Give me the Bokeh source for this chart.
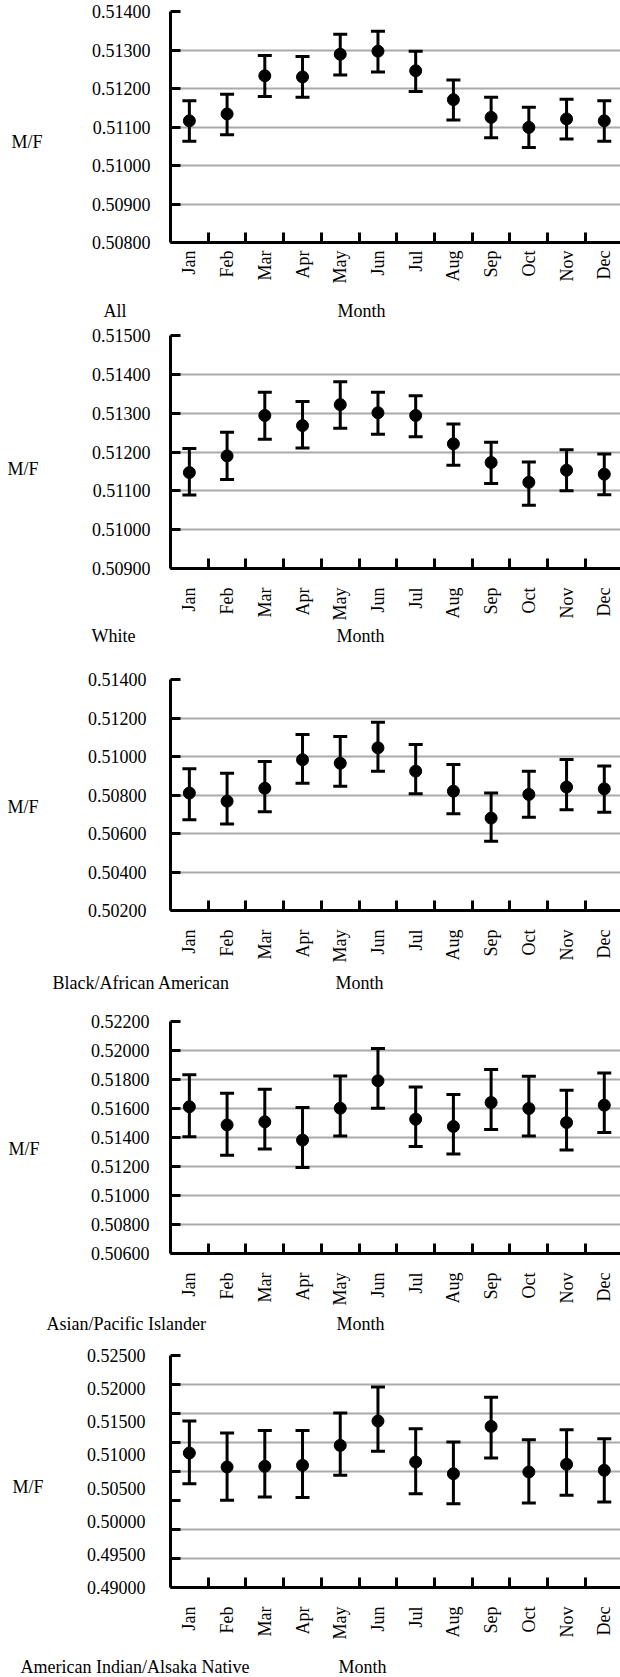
import math
from bokeh.plotting import figure
from bokeh.models import (ColumnDataSource, Range1d, FixedTicker, PrintfTickFormatter,
                          Whisker, TeeHead, Label)
from bokeh.layouts import column
from bokeh.embed import file_html
from bokeh.resources import INLINE

FONT = "Liberation Serif"

months = ["Jan", "Feb", "Mar", "Apr", "May", "Jun", "Jul", "Aug", "Sep", "Oct", "Nov", "Dec"]

# ---- All ----
all_mean = [0.51116, 0.51134, 0.51233, 0.51230, 0.51289, 0.51297, 0.51246, 0.51171, 0.51125, 0.51099, 0.51121, 0.51116]
all_lower = [0.51063, 0.51080, 0.51179, 0.51177, 0.51235, 0.51243, 0.51192, 0.51118, 0.51072, 0.51047, 0.51069, 0.51063]
all_upper = [0.51168, 0.51185, 0.51286, 0.51283, 0.51341, 0.51349, 0.51297, 0.51222, 0.51177, 0.51151, 0.51172, 0.51168]
all_ticks = [0.508, 0.509, 0.510, 0.511, 0.512, 0.513, 0.514]

# ---- White ----
white_mean = [0.51147, 0.51190, 0.51294, 0.51268, 0.51322, 0.51301, 0.51294, 0.51221, 0.51173, 0.51122, 0.51153, 0.51143]
white_lower = [0.51089, 0.51129, 0.51233, 0.51210, 0.51261, 0.51246, 0.51239, 0.51166, 0.51119, 0.51063, 0.51100, 0.51090]
white_upper = [0.51209, 0.51251, 0.51354, 0.51330, 0.51381, 0.51354, 0.51345, 0.51272, 0.51225, 0.51174, 0.51206, 0.51195]
white_ticks = [0.509, 0.510, 0.511, 0.512, 0.513, 0.514, 0.515]

# ---- Black/African American ----
black_mean = [0.50810, 0.50768, 0.50835, 0.50983, 0.50965, 0.51045, 0.50924, 0.50820, 0.50680, 0.50803, 0.50841, 0.50832]
black_lower = [0.50671, 0.50650, 0.50713, 0.50861, 0.50846, 0.50924, 0.50806, 0.50702, 0.50560, 0.50685, 0.50723, 0.50711]
black_upper = [0.50936, 0.50913, 0.50974, 0.51114, 0.51104, 0.51178, 0.51062, 0.50958, 0.50811, 0.50924, 0.50984, 0.50951]
black_ticks = [0.502, 0.504, 0.506, 0.508, 0.510, 0.512, 0.514]

# ---- Asian/Pacific Islander ----
asian_mean = [0.51612, 0.51487, 0.51508, 0.51382, 0.51602, 0.51791, 0.51526, 0.51476, 0.51641, 0.51600, 0.51503, 0.51623]
asian_lower = [0.51405, 0.51278, 0.51320, 0.51193, 0.51411, 0.51602, 0.51338, 0.51287, 0.51455, 0.51411, 0.51313, 0.51434]
asian_upper = [0.51832, 0.51706, 0.51733, 0.51607, 0.51825, 0.52014, 0.51749, 0.51697, 0.51869, 0.51823, 0.51726, 0.51844]
asian_ticks = [0.506, 0.508, 0.510, 0.512, 0.514, 0.516, 0.518, 0.520, 0.522]

# ---- American Indian/Alaska Native ----
aian_mean = [0.51029, 0.50818, 0.50828, 0.50843, 0.51144, 0.51511, 0.50893, 0.50717, 0.51430, 0.50743, 0.50858, 0.50768]
aian_lower = [0.50567, 0.50316, 0.50366, 0.50356, 0.50692, 0.51054, 0.50416, 0.50265, 0.50953, 0.50275, 0.50391, 0.50291]
aian_upper = [0.51511, 0.51330, 0.51370, 0.51370, 0.51631, 0.52023, 0.51395, 0.51194, 0.51872, 0.51230, 0.51380, 0.51245]
aian_ticks = [0.490, 0.495, 0.500, 0.505, 0.510, 0.515, 0.520, 0.525]
aian_tick_marks = [0.490, 0.494375, 0.49875, 0.503125, 0.5075, 0.511875, 0.51625, 0.520625, 0.525]
aian_grid = [0.490, 0.494375, 0.49875, 0.5075, 0.511875, 0.51625, 0.520625, 0.525]


def make_panel(mean, lower, upper, yticks, ymarks, ygrid, group, height, top, bottom,
               ystand, xstand, mf_dx, mf_dy, g_dx, g_dy, m_dx):
    p = figure(width=620, height=height, x_range=Range1d(-0.5, 11.43),
               y_range=Range1d(yticks[0], yticks[-1]),
               output_backend="svg", toolbar_location=None,
               min_border_left=170, min_border_right=0,
               min_border_top=top, min_border_bottom=bottom)
    p.outline_line_color = None
    p.background_fill_color = "white"
    p.border_fill_color = "white"

    src = ColumnDataSource(dict(x=list(range(len(months))), mean=mean, lower=lower, upper=upper))

    # grid
    p.xgrid.visible = False
    p.ygrid.ticker = FixedTicker(ticks=ygrid)
    p.ygrid.grid_line_color = "#aaaaaa"
    p.ygrid.grid_line_width = 2

    # y axis
    ya = p.yaxis[0]
    ya.ticker = FixedTicker(ticks=yticks, minor_ticks=ymarks)
    ya.formatter = PrintfTickFormatter(format="%.5f")
    ya.axis_line_width = 3
    ya.axis_line_color = "black"
    ya.major_tick_line_color = None
    ya.major_tick_in = 0
    ya.major_tick_out = 0
    ya.minor_tick_line_color = "black"
    ya.minor_tick_line_width = 3
    ya.minor_tick_in = 10
    ya.minor_tick_out = 0
    ya.major_label_standoff = ystand
    ya.major_label_text_font = FONT
    ya.major_label_text_font_size = "18px"
    ya.major_label_text_color = "black"

    # x axis
    xa = p.xaxis[0]
    xa.ticker = FixedTicker(ticks=list(range(len(months))),
                            minor_ticks=[i + 0.5 for i in range(len(months) - 1)])
    xa.major_label_overrides = {i: m for i, m in enumerate(months)}
    xa.major_label_orientation = math.pi / 2
    xa.axis_line_width = 3
    xa.axis_line_color = "black"
    xa.major_tick_line_color = None
    xa.major_tick_in = 0
    xa.major_tick_out = 0
    xa.minor_tick_line_color = "black"
    xa.minor_tick_line_width = 3
    xa.minor_tick_in = 10
    xa.minor_tick_out = 0
    xa.major_label_standoff = xstand
    xa.major_label_text_font = FONT
    xa.major_label_text_font_size = "18px"
    xa.major_label_text_color = "black"

    # error bars and points
    w = Whisker(source=src, base="x", upper="upper", lower="lower",
                line_width=3, line_color="black",
                upper_head=TeeHead(size=14, line_width=3, line_color="black"),
                lower_head=TeeHead(size=14, line_width=3, line_color="black"))
    p.add_layout(w)
    p.scatter("x", "mean", source=src, size=12, color="black")

    x0, y0 = -0.5, yticks[0]
    common = dict(x=x0, y=y0, x_units="data", y_units="data", text_font=FONT,
                  text_font_size="18px", text_color="black",
                  text_baseline="middle", text_align="left")
    p.add_layout(Label(text="M/F", x_offset=mf_dx, y_offset=mf_dy, **common), "left")
    p.add_layout(Label(text="Month", x_offset=m_dx, y_offset=g_dy, **common), "left")
    p.add_layout(Label(text=group, x_offset=g_dx, y_offset=g_dy, **common), "below")
    return p


p1 = make_panel(all_mean, all_lower, all_upper, all_ticks, all_ticks, all_ticks, "All",
                322, 11, 80, 20, 8, -159, 101, -67, -68, 167)
p2 = make_panel(white_mean, white_lower, white_upper, white_ticks, white_ticks, white_ticks, "White",
                345, 13, 99, 20, 19, -163, 100, -79, -67, 166)
p3 = make_panel(black_mean, black_lower, black_upper, black_ticks, black_ticks, black_ticks,
                "Black/African American", 342, 12, 99, 24, 19, -163, 104, -118, -72, 165)
p4 = make_panel(asian_mean, asian_lower, asian_upper, asian_ticks, asian_ticks, asian_ticks,
                "Asian/Pacific Islander", 334, 12, 90, 21, 19, -162, 105, -124, -70, 166)
p5 = make_panel(aian_mean, aian_lower, aian_upper, aian_ticks, aian_tick_marks, aian_grid,
                "American Indian/Alsaka Native", 334, 12, 90, 25, 19, -158, 101, -150, -79, 168)

layout = column(p1, p2, p3, p4, p5, spacing=0)
open("out.html", "w").write(file_html(layout, INLINE))
